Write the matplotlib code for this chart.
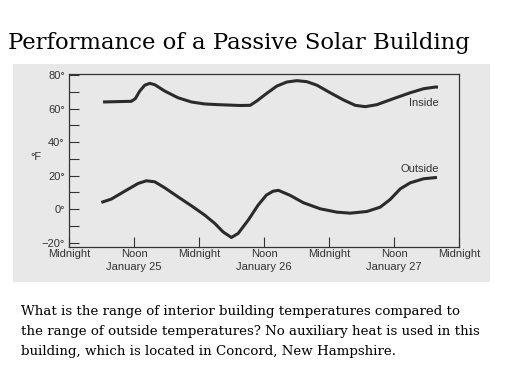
import matplotlib
matplotlib.use("Agg")
import matplotlib.pyplot as plt
from matplotlib.patches import Rectangle

# Hours since midnight before January 25
inside_hours = [6.28, 11.5, 12.24, 13.05, 13.98, 14.9, 15.82, 17.67, 20.12, 22.58, 25.05,
                27.5, 31.57, 33.42, 34.65, 36.5, 38.35, 40.19, 42.04, 43.88, 45.73, 48.18,
                50.64, 52.8, 54.65, 56.8, 59.87, 62.95, 65.41, 67.57, 68.07]
inside_temps = [63.9, 64.3, 65.9, 70.4, 73.9, 75.0, 74.2, 70.4, 66.4, 63.9, 62.7,
                62.3, 61.8, 61.9, 64.5, 69.1, 73.4, 75.8, 76.6, 76.0, 73.9, 69.4,
                65.1, 61.9, 61.1, 62.3, 65.9, 69.4, 71.8, 72.8, 72.8]
outside_hours = [5.96, 7.81, 10.28, 12.74, 14.27, 15.82, 17.67, 20.12, 22.58, 25.05, 26.89,
                 28.43, 29.96, 31.2, 33.05, 34.89, 36.42, 37.66, 38.64, 40.8, 43.26, 46.34,
                 49.42, 51.88, 54.96, 57.42, 59.26, 61.11, 62.95, 65.41, 67.88]
outside_temps = [4.0, 6.0, 10.7, 15.3, 16.9, 16.3, 12.7, 7.3, 2.0, -3.6, -8.5,
                 -13.6, -16.9, -14.5, -6.6, 2.4, 8.4, 10.7, 11.2, 8.2, 3.8, 0.2,
                 -1.8, -2.4, -1.4, 1.2, 5.8, 12.1, 15.7, 18.1, 18.9]

x_ticks = [0, 12, 24, 36, 48, 60, 72]
x_tick_labels = ["Midnight", "Noon\nJanuary 25", "Midnight", "Noon\nJanuary 26",
                 "Midnight", "Noon\nJanuary 27", "Midnight"]
y_ticks = [-20, 0, 20, 40, 60, 80]
y_tick_labels = ["\u221220\u00b0", "0\u00b0", "20\u00b0", "40\u00b0", "60\u00b0", "80\u00b0"]
y_minor = [-10, 10, 30, 50, 70]

title = "Performance of a Passive Solar Building"
question = ("What is the range of interior building temperatures compared to\n"
            "the range of outside temperatures? No auxiliary heat is used in this\n"
            "building, which is located in Concord, New Hampshire.")

W, H = 512, 384
fig = plt.figure(figsize=(5.12, 3.84), dpi=100)
fig.patch.set_facecolor("white")
gray = "#e8e8e8"

def fx(px):
    return px / W

def fy(py):
    return 1 - py / H

fig.patches.append(Rectangle((fx(13), fy(282)), (490 - 13) / W, (282 - 64) / H,
                             transform=fig.transFigure, facecolor=gray, edgecolor="none",
                             zorder=-5))

ax = fig.add_axes([fx(69), fy(246.7), (459.3 - 69) / W, (246.7 - 74.3) / H])
ax.set_zorder(2)
ax.set_facecolor(gray)
line_col = "#2b2b2b"
for hrs, tmp in [(inside_hours, inside_temps), (outside_hours, outside_temps)]:
    ax.plot(hrs, tmp, color=line_col, lw=2.2, solid_capstyle="butt",
            solid_joinstyle="round")
ax.set_xlim(0, 72)
ax.set_ylim(-22.4, 80.4)

sans = ["Liberation Sans", "DejaVu Sans"]
fs = 8
ax.set_xticks(x_ticks)
ax.set_xticklabels(x_tick_labels, fontsize=fs, family=sans, color="#333333",
                   linespacing=1.35)
ax.set_yticks(y_ticks)
ax.set_yticklabels(y_tick_labels, fontsize=fs, family=sans, color="#333333")
ax.set_yticks(y_minor, minor=True)
ax.tick_params(axis="both", which="both", direction="in", length=7, width=0.8,
               color="#333333", pad=3)
ax.tick_params(axis="x", which="major", pad=2)
for s in ax.spines.values():
    s.set_color("#333333")
    s.set_linewidth(0.9)

ax.text(68.3, 63.5, "Inside", ha="right", va="center", fontsize=fs, family=sans,
        color="#333333")
ax.text(68.3, 23.7, "Outside", ha="right", va="center", fontsize=fs, family=sans,
        color="#333333")
fig.text(fx(36), fy(157), "\u00b0F", ha="center", va="center", fontsize=fs,
         family=sans, color="#333333", zorder=3)

serif = ["DejaVu Serif"]
fig.text(fx(8), fy(49.5), title, ha="left", va="baseline", fontsize=16.4,
         family=serif, color="black")
fig.text(fx(21), fy(305), question, ha="left", va="top", fontsize=9.6,
         family=serif, color="black", linespacing=1.7)

fig.savefig("out.png", dpi=100, facecolor="white")
